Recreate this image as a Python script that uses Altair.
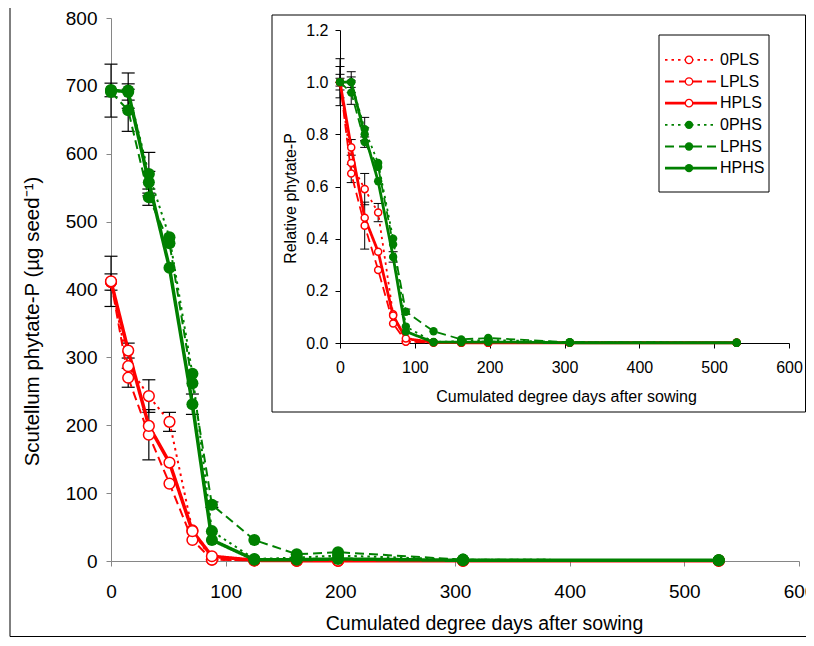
import altair as alt
import pandas as pd

# ---------------- data ----------------
dd = [0, 15, 33, 51, 71, 88, 125, 162, 198, 307, 530]
series = ["0PLS", "LPLS", "HPLS", "0PHS", "LPHS", "HPHS"]
group = ["LS", "LS", "LS", "HS", "HS", "HS"]

# main panel: scutellum phytate-P (ug seed-1)
p_0PLS = [411, 287, 243, 205, 45, 2, 1, 0.5, 0.5, 0.5, 0.5]
p_LPLS = [411, 270, 186, 114, 31, 2, 1, 0.5, 0.5, 0.5, 0.5]
p_HPLS = [412, 310, 199, 145, 44, 7, 1, 0.5, 0.5, 0.5, 0.5]
p_0PHS = [693, 693, 570, 477, 276, 44, 3, 5, 8, 2, 1]
p_LPHS = [691, 664, 536, 468, 262, 83, 31, 10, 13, 2, 1]
p_HPHS = [694, 691, 558, 432, 231, 31, 2, 2, 3, 1, 1]

e_0PLS = [12, 0, 24, 14, 0, 0, 0, 0, 0, 0, 0]
e_LPLS = [0, 14, 37, 0, 0, 0, 0, 0, 0, 0, 0]
e_HPLS = [37, 11, 0, 0, 0, 0, 0, 0, 0, 0, 0]
e_0PHS = [39, 26, 32, 0, 0, 0, 0, 0, 0, 0, 0]
e_LPHS = [0, 31, 12, 0, 0, 4, 0, 0, 0, 0, 0]
e_HPHS = [10, 12, 16, 0, 15, 0, 0, 0, 0, 0, 0]

# inset: relative phytate-P
r_0PLS = [1.00, 0.69, 0.59, 0.50, 0.11, 0.006, 0.002, 0.001, 0.001, 0.001, 0.001]
r_LPLS = [1.00, 0.65, 0.45, 0.28, 0.075, 0.005, 0.002, 0.001, 0.001, 0.001, 0.001]
r_HPLS = [1.00, 0.75, 0.48, 0.35, 0.105, 0.017, 0.002, 0.001, 0.001, 0.001, 0.001]
r_0PHS = [1.00, 1.00, 0.82, 0.69, 0.40, 0.063, 0.004, 0.007, 0.012, 0.003, 0.001]
r_LPHS = [1.00, 0.96, 0.77, 0.675, 0.378, 0.12, 0.045, 0.014, 0.019, 0.003, 0.001]
r_HPHS = [1.00, 1.00, 0.80, 0.62, 0.33, 0.044, 0.003, 0.003, 0.004, 0.001, 0.001]

re_0PLS = [0.03, 0, 0.06, 0.035, 0, 0, 0, 0, 0, 0, 0]
re_LPLS = [0, 0.035, 0.09, 0, 0, 0, 0, 0, 0, 0, 0]
re_HPLS = [0.09, 0.03, 0, 0, 0, 0, 0, 0, 0, 0, 0]
re_0PHS = [0.06, 0.04, 0.045, 0, 0, 0, 0, 0, 0, 0, 0]
re_LPHS = [0, 0.045, 0.02, 0, 0, 0.01, 0, 0, 0, 0, 0]
re_HPHS = [0.015, 0.02, 0.025, 0, 0.02, 0, 0, 0, 0, 0, 0]

main_vals = [p_0PLS, p_LPLS, p_HPLS, p_0PHS, p_LPHS, p_HPHS]
main_errs = [e_0PLS, e_LPLS, e_HPLS, e_0PHS, e_LPHS, e_HPHS]
rel_vals = [r_0PLS, r_LPLS, r_HPLS, r_0PHS, r_LPHS, r_HPHS]
rel_errs = [re_0PLS, re_LPLS, re_HPLS, re_0PHS, re_LPHS, re_HPHS]


def long_table(vals, errs):
    rows = []
    for s, g, v, e in zip(series, group, vals, errs):
        for x, y, er in zip(dd, v, e):
            rows.append({"x": x, "y": y, "err": er, "series": s, "grp": g})
    return pd.DataFrame(rows)


df_main = long_table(main_vals, main_errs)
df_rel = long_table(rel_vals, rel_errs)
df_leg = pd.DataFrame({"series": series, "grp": group})

RED = "#FF0000"
GREEN = "#008000"
FONT = "Liberation Sans"
DOT = [2.5, 4]
DASH = [9, 5]
SOLID = [1, 0]
STYLE = {  # series: (colour, dash, width-class)
    "0PLS": (RED, DOT, 0), "LPLS": (RED, DASH, 0), "HPLS": (RED, SOLID, 1),
    "0PHS": (GREEN, DOT, 0), "LPHS": (GREEN, DASH, 0), "HPHS": (GREEN, SOLID, 1),
}

W, H = 688, 543


def panel(df, xscale, yscale, xaxis, yaxis, widths, red_size, green_size, cap, errw):
    base = alt.Chart(df)

    def X(f):
        return alt.X(f + ":Q", scale=xscale, axis=xaxis)

    def Y(f):
        return alt.Y(f + ":Q", scale=yscale, axis=yaxis)

    errs = base.transform_filter("datum.err > 0").transform_calculate(
        lo="datum.y - datum.err", hi="datum.y + datum.err")
    bar = errs.mark_rule(color="black", strokeWidth=errw).encode(
        x=X("x"), y=Y("lo"), y2="hi:Q")
    cap_hi = errs.mark_rule(color="black", strokeWidth=errw, xOffset=-cap, x2Offset=cap).encode(
        x=X("x"), x2="x:Q", y=Y("hi"))
    cap_lo = errs.mark_rule(color="black", strokeWidth=errw, xOffset=-cap, x2Offset=cap).encode(
        x=X("x"), x2="x:Q", y=Y("lo"))

    def line(s):
        col, dash, wc = STYLE[s]
        return base.transform_filter(alt.FieldEqualPredicate(field="series", equal=s)).mark_line(
            color=col, strokeDash=dash, strokeWidth=widths[wc]).encode(x=X("x"), y=Y("y"))

    red_pts = base.transform_filter(alt.FieldEqualPredicate(field="grp", equal="LS")).mark_point(
        shape="circle", filled=True, fill="white", stroke=RED, strokeWidth=1.5,
        size=red_size, opacity=1).encode(x=X("x"), y=Y("y"))
    green_pts = base.transform_filter(alt.FieldEqualPredicate(field="grp", equal="HS")).mark_circle(
        color=GREEN, size=green_size, opacity=1).encode(x=X("x"), y=Y("y"))
    return alt.layer(bar, cap_hi, cap_lo,
                     line("0PLS"), line("LPLS"), line("HPLS"), red_pts,
                     line("0PHS"), line("LPHS"), line("HPHS"), green_pts)


# main panel
main_xaxis = alt.Axis(values=list(range(0, 601, 100)), format="d", grid=False, tickSize=5,
                      domainColor="#868686", tickColor="#868686", labelFontSize=19,
                      labelColor="black", labelPadding=16, labelFlush=False,
                      title="Cumulated degree days after sowing", titleFontSize=19.5,
                      titleFontWeight="normal", titleColor="black",
                      titleX=373, titleY=68, titleBaseline="alphabetic")
main_yaxis = alt.Axis(values=list(range(0, 801, 100)), format="d", grid=False, tickSize=5,
                      domainColor="#868686", tickColor="#868686", labelFontSize=19,
                      labelColor="black", labelPadding=9, labelFlush=False,
                      title="Scutellum phytate-P (µg seed⁻¹)", titleFontSize=20.5,
                      titleFontWeight="normal", titleColor="black", titleAngle=270,
                      titleX=-73, titleY=303, titleBaseline="alphabetic")
main = panel(df_main,
             alt.Scale(domain=[0, 600], nice=False, zero=False),
             alt.Scale(domain=[0, 800], nice=False, zero=False),
             main_xaxis, main_yaxis, [2, 3.5], 115, 145, 6.5, 1.2)

# inset panel
in_xaxis = alt.Axis(orient="bottom", offset=-218, values=list(range(0, 601, 100)), format="d",
                    grid=False, tickSize=5, domainColor="black", tickColor="black",
                    labelFontSize=16, labelColor="black", labelPadding=11, labelFlush=False,
                    title="Cumulated degree days after sowing", titleFontSize=16,
                    titleFontWeight="normal", titleColor="black",
                    titleX=455, titleY=58, titleBaseline="alphabetic")
in_yaxis = alt.Axis(orient="left", offset=-229, values=[0, 0.2, 0.4, 0.6, 0.8, 1.0, 1.2],
                    format=".1f", grid=False, tickSize=5, domainColor="black", tickColor="black",
                    labelFontSize=16, labelColor="black", labelPadding=7, labelFlush=False,
                    title="Relative phytate-P", titleFontSize=16, titleFontWeight="normal",
                    titleColor="black", titleAngle=270, titleX=-45, titleY=180,
                    titleBaseline="alphabetic")
inset = panel(df_rel,
              alt.Scale(domain=[0, 600], range=[229, 678], nice=False, zero=False),
              alt.Scale(domain=[0, 1.2], range=[325, 12], nice=False, zero=False),
              in_xaxis, in_yaxis, [1.8, 2.8], 50, 70, 4.5, 1)

# inset legend
ly = alt.Y("series:N", scale=alt.Scale(domain=series, range=[31, 161], padding=0), axis=None)
lbase = alt.Chart(df_leg)


def leg_line(s):
    col, dash, wc = STYLE[s]
    return lbase.transform_filter(alt.FieldEqualPredicate(field="series", equal=s)).mark_rule(
        color=col, strokeDash=dash, strokeWidth=[1.8, 2.8][wc]).encode(
        x=alt.value(554), x2=alt.value(606), y=ly)


leg = alt.layer(
    *[leg_line(s) for s in series],
    lbase.transform_filter(alt.FieldEqualPredicate(field="grp", equal="LS")).mark_point(
        shape="circle", filled=True, fill="white", stroke=RED, strokeWidth=1.3, size=55,
        opacity=1).encode(x=alt.value(578), y=ly),
    lbase.transform_filter(alt.FieldEqualPredicate(field="grp", equal="HS")).mark_circle(
        color=GREEN, size=70, opacity=1).encode(x=alt.value(578), y=ly),
    lbase.mark_text(align="left", baseline="middle", fontSize=16, color="black").encode(
        x=alt.value(609), y=ly, text="series:N"),
)

# frames (decoration)
one = alt.Chart(pd.DataFrame({"k": [0]}))
frames = alt.layer(
    one.mark_rect(fillOpacity=0, stroke="black", strokeWidth=1).encode(
        x=alt.value(-101), x2=alt.value(720), y=alt.value(-14), y2=alt.value(618.5)),
    one.mark_rect(fillOpacity=0, stroke="black", strokeWidth=1).encode(
        x=alt.value(161), x2=alt.value(694.5), y=alt.value(-3), y2=alt.value(394)),
    one.mark_rect(fillOpacity=0, stroke="black", strokeWidth=1).encode(
        x=alt.value(548), x2=alt.value(658), y=alt.value(17), y2=alt.value(174)),
)

chart = alt.layer(frames, main, inset, leg).resolve_scale(
    x="independent", y="independent"
).properties(
    width=W, height=H,
    autosize=alt.AutoSizeParams(type="none"),
    padding={"left": 103, "top": 10, "right": 7, "bottom": 77},
).configure(font=FONT).configure_view(stroke=None)

chart.save("out.html", embed_options={"renderer": "svg", "actions": False})
